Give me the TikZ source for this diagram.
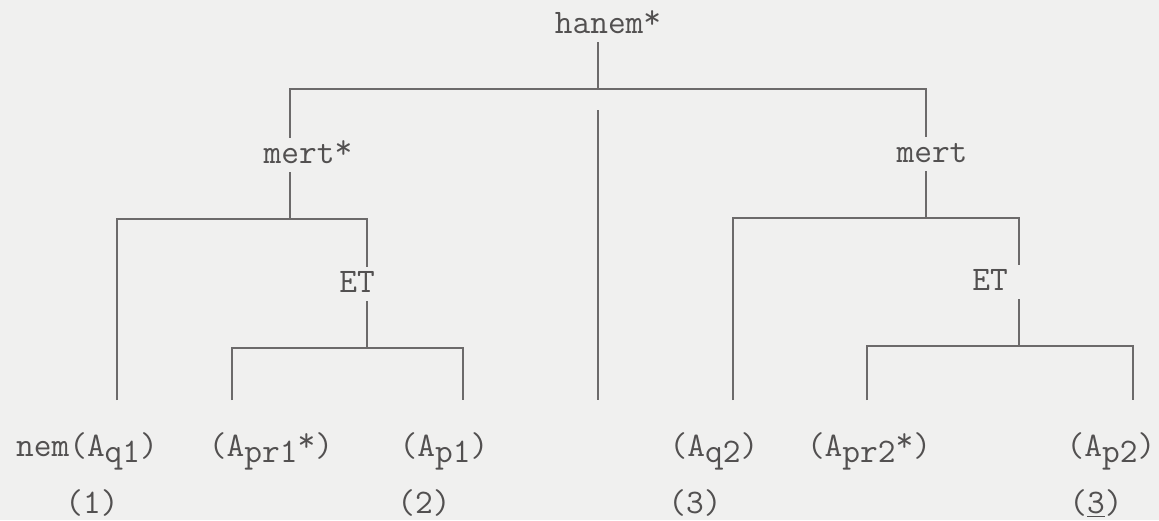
\documentclass[tikz,border=0pt]{standalone}
\usepackage{fontspec}
\usepackage{xcolor}
\usepackage{tikz}
\usetikzlibrary{calc}
\definecolor{paper}{RGB}{240,240,239}
\definecolor{ink}{RGB}{82,80,80}
\definecolor{rule}{RGB}{108,106,106}
\newcommand{\lo}[1]{\raisebox{-3pt}{#1}}
\newcommand{\st}{\raisebox{2.5pt}{*}}

\begin{document}
\begin{tikzpicture}[
  x=0.5pt, y=-0.5pt,
  every node/.style={font=\ttfamily\fontsize{17.2}{20}\selectfont, text=ink},
  lbl/.style={anchor=base, inner sep=3.5pt, text height=9pt, text depth=1pt},
  tree/.style={draw=rule, line width=0.6pt}
]
\fill[paper] (0,0) rectangle (1159,520);
\useasboundingbox (0,0) rectangle (1159,520);
\node[lbl] (hanem) at (608,33) {hanem\st};
\node[lbl] (mertL) at (308,163) {mert\st};
\node[lbl] (mertR) at (932,162) {mert};
\node[lbl] (etL) at (357,292) {ET};
\node[lbl] (etR) at (990,290) {ET};
\node[lbl] (q1) at (87,456) {nem(A\lo{q1})};
\node[lbl] (pr1) at (271,456) {(A\lo{pr1}\st)};
\node[lbl] (p1) at (444,456) {(A\lo{p1})};
\node[lbl] (q2) at (714,456) {(A\lo{q2})};
\node[lbl] (pr2) at (869,456) {(A\lo{pr2}\st)};
\node[lbl] (p2) at (1111,456) {(A\lo{p2})};
\node[lbl] (n1) at (92,513) {(1)};
\node[lbl] (n2) at (424,513) {(2)};
\node[lbl] (n3) at (695,513) {(3)};
\node[lbl] (n3u) at (1096,513) {(\underline{3})};
\coordinate (jtop) at (598,89);
\coordinate (midtop) at (598,110);
\coordinate (jl) at (290,219);
\coordinate (jr) at (926,218);
\coordinate (jel) at (367,348);
\coordinate (jer) at (1019,346);
\coordinate (l1) at (117,400);
\coordinate (l2) at (232,400);
\coordinate (l3) at (463,400);
\coordinate (l4) at (598,400);
\coordinate (l5) at (733,400);
\coordinate (l6) at (867,400);
\coordinate (l7) at (1133,400);
\draw[tree] (hanem.south -| jtop) -- (jtop);
\draw[tree] (mertL.north -| jl) |- (jtop) -| (mertR.north -| jr);
\draw[tree] (midtop) -- (l4);
\draw[tree] (mertL.south -| jl) -- (jl);
\draw[tree] (l1) |- (jl) -| (etL.north -| jel);
\draw[tree] (etL.south -| jel) -- (jel);
\draw[tree] (l2) |- (jel) -| (l3);
\draw[tree] (mertR.south -| jr) -- (jr);
\draw[tree] (l5) |- (jr) -| (etR.north -| jer);
\draw[tree] (etR.south -| jer) -- (jer);
\draw[tree] (l6) |- (jer) -| (l7);
\end{tikzpicture}
\end{document}
